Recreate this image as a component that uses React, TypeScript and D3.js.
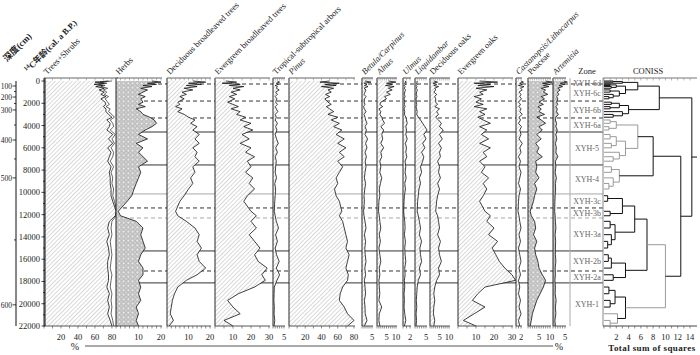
import React from 'react';
import * as d3 from 'd3';

// sample ages (cal. a B.P.)
const ages = [0, 100, 200, 300, 400, 500, 650, 800, 1000, 1200, 1400, 1600,
  1900, 2100, 2300, 2500, 2750, 3000, 3250,
  3500, 3800, 4100, 4400,
  4800, 5200, 5600, 6000, 6400, 6800, 7200,
  7700, 8200, 8700, 9200, 9700,
  10300, 10800,
  11700, 12100,
  12600, 13200, 13800, 14400, 15000,
  15600, 16200, 16800,
  17400, 17900,
  18500, 19100, 19700, 20300, 20900, 21500, 22000];

const treesShrubs = [80, 66, 74, 64, 72, 67, 75, 70, 74, 71, 76, 72,
  75, 77, 73, 78, 76, 80, 83,
  78, 81, 82, 78,
  84, 80, 83, 79, 82, 81, 78,
  82, 79, 81, 80, 82,
  81, 83,
  86, 85,
  80, 79, 80, 78, 79,
  80, 79, 78,
  80, 79,
  78, 80, 79, 80, 79, 81, 82];

const shrubs = [4, 6, 3, 5, 3, 6, 4, 5, 3, 4, 3, 5,
  3, 4, 3, 5, 3, 4, 3,
  4, 3, 5, 4,
  3, 4, 2, 4, 3, 4, 3,
  3, 2, 3, 2, 3,
  2, 2,
  1, 1,
  3, 4, 3, 4, 3,
  3, 4, 3,
  4, 3,
  4, 3, 4, 3, 4, 3, 2];

const herbs = [16, 20, 14, 18, 12, 16, 11, 14, 12, 10, 13, 11,
  12, 10, 13, 9, 11, 12, 15,
  17, 18, 16, 13,
  10, 14, 9, 12, 10, 12, 14,
  10, 11, 10, 9, 8,
  7, 5,
  1, 2,
  9, 12, 11, 12, 13,
  11, 10, 12,
  12, 10,
  11, 10, 11, 9, 10, 9, 10];

const decBroad = [12, 18, 10, 16, 9, 14, 8, 12, 7, 9, 6, 8,
  5, 6, 4, 7, 5, 8, 10,
  13, 11, 14, 12,
  15, 13, 15, 12, 14, 13, 15,
  12, 13, 11, 12, 10,
  8, 6,
  4, 5,
  9, 13, 15, 14, 16,
  14, 15, 18,
  14, 9,
  5, 3.5, 2.5, 2, 1.5, 3, 1];

const everBroad = [6, 12, 4, 14, 8, 16, 10, 14, 9, 12, 8, 11,
  7, 10, 13, 9, 14, 12, 17,
  14, 20, 16, 21,
  15, 19, 14, 20, 17, 22, 18,
  20, 17, 21, 19, 22,
  18, 16,
  20, 23,
  20, 23, 19, 22, 25,
  22, 24, 29,
  26, 28,
  22, 13, 7, 10, 14, 5, 10];

const tropical = [2, 3, 1.5, 2.5, 1, 2, 1.5, 2.8, 1.2, 2, 1, 1.8,
  1.2, 2, 1, 1.5, 2.2, 1, 1.5,
  1, 2, 1.2, 1.8,
  1, 1.6, 2.4, 1.2, 2, 1, 1.5,
  1.2, 1, 1.6, 0.8, 1.2,
  1, 0.8,
  0.6, 1,
  1.5, 2.5, 1.2, 2, 1,
  1.6, 2.8, 1.5,
  3, 1.8,
  0.6, 0.5, 0.4, 0.6, 0.5, 0.8, 0.5];

const pinus = [50, 38, 62, 44, 58, 40, 55, 48, 52, 45, 50, 44,
  48, 52, 46, 50, 55, 48, 60,
  52, 62, 55, 65,
  58, 68, 60, 70, 62, 68, 60,
  66, 62, 58, 60, 56,
  58, 62,
  65, 62,
  66, 68, 70, 72, 70,
  74, 72, 70,
  73, 72,
  66, 63, 62, 68, 72, 80, 72];

const betula = [1.5, 4.5, 1, 2.5, 1.2, 3, 1, 2, 1.5, 1, 2, 1.2,
  1, 1.5, 0.8, 1.2, 2, 1, 1.5,
  1.8, 2.5, 1.5, 2.2,
  1.5, 2.8, 1.8, 2.5, 1.5, 2.2, 1.6,
  2, 1.5, 1.2, 1.8, 1.4,
  1, 1.2,
  0.8, 1,
  1.5, 2, 1.2, 1.8, 1.4,
  1.6, 2, 1.4,
  1.8, 1.2,
  1.5, 1.8, 1.2, 1.5, 1.6, 2.5, 1.2];

const alnus = [6, 10, 5, 8, 4.5, 9, 6, 8, 5, 7, 4, 5,
  2, 1.5, 3, 1, 2, 1.5, 2.5,
  3, 4, 2, 3.5,
  2.5, 3, 2, 3.5, 2, 2.5, 1.5,
  2, 1.5, 2.5, 1.8, 1.2,
  1.5, 1,
  0.8, 1.2,
  1.5, 2, 1.2, 1.8, 1,
  1.5, 2, 1.2,
  1.5, 1,
  1.2, 1.5, 1, 2.5, 1.2, 1, 1.5];

const ulmus = [0.5, 1, 0.4, 0.8, 0.3, 0.6, 0.4, 0.7, 0.5, 0.4, 0.6, 0.3,
  0.5, 0.4, 0.6, 0.3, 0.5, 0.4, 0.8,
  1, 1.2, 0.8, 1,
  0.8, 1.2, 0.7, 1, 0.8, 1.1, 0.6,
  0.8, 0.6, 0.9, 0.5, 0.7,
  0.4, 0.3,
  0.2, 0.3,
  0.5, 0.6, 0.4, 0.7, 0.5,
  0.6, 0.8, 0.5,
  0.6, 0.4,
  0.5, 0.3, 0.4, 0.3, 0.5, 0.8, 0.4];

const liquidambar = [0.8, 1.2, 0.5, 1, 0.6, 0.9, 0.5, 1.1, 0.7, 0.6, 0.9, 0.5,
  0.6, 0.8, 0.5, 0.7, 1, 0.8, 1.5,
  2.5, 3.5, 4.5, 5.5,
  4, 5, 3.5, 4.5, 3, 4, 3.5,
  2.5, 3, 2, 2.5, 1.8,
  1.5, 1.2,
  1, 1.5,
  2, 2.5, 2, 3, 2.2,
  2.5, 3, 2,
  2.5, 1.5,
  1, 0.8, 0.6, 0.8, 0.5, 0.7, 0.5];

const decOaks = [2, 4, 1.5, 3.5, 2, 4.5, 2.5, 3, 2, 3.5, 2.5, 3,
  3, 4, 2.5, 5, 3.5, 4.5, 3,
  4.5, 6, 5, 7,
  5, 6.5, 4.5, 6, 5, 5.5, 4,
  5, 4.5, 5.5, 4, 5,
  4, 3.5,
  3, 4,
  4.5, 5, 4, 5.5, 4.5,
  5, 6, 4.5,
  5, 3.5,
  2.5, 2, 2.5, 2, 1.8, 2.5, 2];

const everOaks = [12, 22, 9, 18, 11, 20, 10, 16, 12, 14, 9, 13,
  10, 14, 9, 16, 12, 15, 11,
  14, 18, 12, 16,
  13, 17, 12, 18, 14, 16, 12,
  15, 13, 17, 14, 16,
  14, 12,
  15, 18,
  16, 20, 17, 22, 19,
  21, 23, 26,
  30, 32,
  15, 11, 8, 15, 9, 3, 10];

const castanopsis = [2, 3, 1.5, 2.5, 1, 3.2, 1.8, 2.5, 1.2, 2, 1.5, 2.2,
  1, 1.8, 1.2, 2, 1.5, 2.5, 1.2,
  1.8, 1, 2.2, 1.5,
  2, 1.2, 2.5, 1.5, 2, 1, 1.8,
  1.2, 2, 1.5, 1, 1.8,
  1.2, 1,
  0.8, 1.2,
  1.5, 2, 1.2, 1.8, 1,
  1.5, 2, 1.2,
  1.8, 1,
  1.5, 1, 1.8, 1.2, 2, 1, 1.5];

const poaceae = [8, 11, 6.5, 10, 7, 9.5, 6, 8, 7, 9, 6, 7.5,
  5, 7, 4.5, 6, 5, 7.5, 4,
  6, 8, 5, 6.5,
  4, 6, 3.5, 5, 4, 6.5, 3.5,
  4, 3.5, 5, 3, 4,
  3, 2.5,
  1, 1.5,
  3, 3.5, 2.5, 4, 3,
  3.5, 4.5, 5,
  6.5, 8,
  7, 5.5, 4, 3, 2, 1.5, 1];

const artemisia = [4.5, 6, 3, 5, 2.5, 4, 2, 3, 1.8, 2.5, 1.5, 2,
  1.5, 2, 1.2, 1.8, 1.5, 2.2, 1.2,
  1, 1.5, 1.2, 1.8,
  1.2, 1.6, 1, 1.4, 1.2, 2, 1,
  1.2, 0.9, 1.4, 1, 1.1,
  0.9, 0.8,
  0.7, 0.9,
  1, 1.2, 0.9, 1.1, 1,
  1, 1.2, 0.9,
  1, 0.8,
  1, 0.9, 1.3, 1, 1.2, 0.8, 1];

// age-depth model
const depthKnots = [60, 100, 200, 300, 400, 500, 550, 600, 620];
const ageKnots = [0, 450, 1440, 2600, 5300, 8700, 14270, 20100, 22000];

// zones
const zoneBounds = [270, 1800, 3320, 4580, 7540, 10140, 11400, 12300, 15260, 17060, 18130];
const zoneLineKind = ['dash', 'dash', 'dash', 'solid', 'solid', 'light', 'dash', 'lightdash', 'solid', 'dash', 'solid'];
const zoneNames = ['XYH-6d', 'XYH-6c', 'XYH-6b', 'XYH-6a', 'XYH-5', 'XYH-4', 'XYH-3c', 'XYH-3b', 'XYH-3a', 'XYH-2b', 'XYH-2a', 'XYH-1'];

// CONISS: [height, colour, left, right]; numbers are sample indexes
const z6d = [3, 'k', [1.5, 'k', 0, 1], 2];
const z6c = [3.5, 'k', [2, 'k', [1, 'k', 3, 4], [1.2, 'k', 5, 6]], [2.5, 'k', [1, 'k', 7, 8], [1.5, 'k', 9, [0.8, 'k', 10, 11]]]];
const z6b = [4, 'k', [2.5, 'k', [1.2, 'k', 12, 13], [1, 'k', 14, 15]], [3, 'k', 16, [1.5, 'k', 17, 18]]];
const z6a = [2, 'g', [1, 'g', 19, 20], [0.8, 'g', 21, 22]];
const z5 = [3.5, 'g', [2, 'g', [1, 'g', 23, 24], [1.2, 'g', 25, 26]], [2.5, 'g', 27, [1.5, 'g', 28, 29]]];
const z4 = [2.5, 'g', [1.2, 'g', 30, 31], [1.5, 'g', 32, [0.8, 'g', 33, 34]]];
const z3c = [0.6, 'k', 35, 36];
const z3b = [1, 'k', 37, 38];
const z3a = [1.8, 'k', [1, 'k', 39, 40], [1.2, 'k', 41, [0.6, 'k', 42, 43]]];
const z2b = [1.2, 'k', [0.7, 'k', 44, 45], 46];
const z2a = [1.5, 'k', 47, 48];
const z1 = [3.5, 'k', [1.8, 'k', [0.8, 'k', 49, 50], [1, 'k', 51, 52]], [2.2, 'g', 53, [1, 'g', 54, 55]]];
const coniss = [14.3, 'k',
  [9, 'k', [5.5, 'k', z6d, z6c], z6b],
  [12.5, 'k',
    [8, 'k', [5.5, 'g', z6a, z5], z4],
    [10, 'g', [7, 'k', [5, 'k', [3, 'k', z3c, z3b], z3a], [3.5, 'k', z2b, z2a]], z1]]];

const panels = [
  { label: 'Trees+Shrubs', x0: 44, x1: 117, max: 86, ticks: [20, 40, 60, 80], minor: 10, pat: 'hatch', values: treesShrubs, inner: shrubs },
  { label: 'Herbs', x0: 116, x1: 161, max: 20, ticks: [10, 20], minor: 2, pat: 'dots', values: herbs },
  { label: 'Deciduous broadleaved trees', x0: 167, x1: 210, max: 20, ticks: [10, 20], minor: 2, pat: 'hatch', values: decBroad },
  { label: 'Evergreen broadleaved trees', x0: 215, x1: 269, max: 30, ticks: [10, 20, 30], minor: 5, pat: 'hatch', values: everBroad },
  { label: 'Tropical-subtropical arbors', x0: 273, x1: 284, max: 5, ticks: [5], minor: 1, pat: 'hatch', values: tropical },
  { label: 'Pinus', italic: true, x0: 289, x1: 354, max: 80, ticks: [20, 40, 60, 80], minor: 10, pat: 'hatch', values: pinus },
  { label: 'Betula/Carpinus', italic: true, x0: 362, x1: 372, max: 5, ticks: [5], minor: 1, pat: 'hatch', values: betula },
  { label: 'Alnus', italic: true, x0: 377, x1: 396, max: 10, ticks: [5, 10], minor: 1, pat: 'hatch', values: alnus },
  { label: 'Ulmus', italic: true, x0: 403, x1: 410, max: 2, ticks: [2], minor: 1, pat: 'hatch', values: ulmus },
  { label: 'Liquidambar', italic: true, x0: 415, x1: 426, max: 5, ticks: [5], minor: 1, pat: 'hatch', values: liquidambar },
  { label: 'Deciduous oaks', x0: 430, x1: 449, max: 10, ticks: [5, 10], minor: 1, pat: 'hatch', values: decOaks },
  { label: 'Evergreen oaks', x0: 458, x1: 512, max: 30, ticks: [10, 20, 30], minor: 5, pat: 'hatch', values: everOaks },
  { label: 'Castanopsis/Lithocarpus', italic: true, x0: 516, x1: 521, max: 2, ticks: [2], minor: 1, pat: 'hatch', values: castanopsis },
  { label: 'Poaceae', x0: 528, x1: 550, max: 10, ticks: [5, 10], minor: 1, pat: 'dots', values: poaceae },
  { label: 'Artemisia', italic: true, x0: 553, x1: 565, max: 5, ticks: [5], minor: 1, pat: 'dots', values: artemisia },
];

const TOP = 78;
const BOT = 326;

export default function App() {
  const y = d3.scaleLinear().domain([0, 22000]).range([81, BOT]);
  const depthToAge = d3.scaleLinear().domain(depthKnots).range(ageKnots);
  const cx = d3.scaleLinear().domain([0, 14]).range([604, 690]);

  // dendrogram lines
  const dLines: any[] = [];
  function walk(n: any): { y: number; h: number } {
    if (typeof n === 'number') return { y: y(ages[n]), h: 0 };
    const [h, col, a, b] = n;
    const ca = walk(a);
    const cb = walk(b);
    const stroke = col === 'k' ? '#111' : '#9a9a9a';
    dLines.push({ x1: cx(ca.h), x2: cx(h), y1: ca.y, y2: ca.y, stroke });
    dLines.push({ x1: cx(cb.h), x2: cx(h), y1: cb.y, y2: cb.y, stroke });
    dLines.push({ x1: cx(h), x2: cx(h), y1: ca.y, y2: cb.y, stroke });
    return { y: (ca.y + cb.y) / 2, h };
  }
  const root = walk(coniss);
  dLines.push({ x1: cx(root.h), x2: 697, y1: root.y, y2: root.y, stroke: '#111' });

  const zoneEdges = [0, ...zoneBounds, 22000];

  return (
    <svg width={700} height={355} style={{ position: 'absolute', left: 0, top: 0, background: '#fff' }}
      fontFamily="'Liberation Serif', 'Times New Roman', serif">
      <defs>
        <pattern id="hatch" width={3} height={3} patternUnits="userSpaceOnUse" patternTransform="rotate(45)">
          <rect width={3} height={3} fill="#fff" />
          <line x1={0} y1={0} x2={0} y2={3} stroke="#7a7a7a" strokeWidth={0.6} />
        </pattern>
        <pattern id="dots" width={4.5} height={4.5} patternUnits="userSpaceOnUse">
          <rect width={4.5} height={4.5} fill="#cfcfcf" />
          <circle cx={2.25} cy={2.25} r={1.5} fill="#f6f6f6" stroke="#777" strokeWidth={0.45} />
        </pattern>
      </defs>

      {/* zone boundaries */}
      {zoneBounds.map((a, i) => {
        const k = zoneLineKind[i];
        return (
          <line key={'zb' + i} x1={116} x2={603} y1={y(a)} y2={y(a)}
            stroke={k.startsWith('light') ? '#a8a8a8' : '#333'}
            strokeWidth={1}
            strokeDasharray={k.endsWith('dash') ? '4,3' : undefined} />
        );
      })}

      {/* pollen panels */}
      {panels.map((p, pi) => {
        const x = d3.scaleLinear().domain([0, p.max]).range([p.x0, p.x1]);
        const fillVals = p.inner ? p.values.map((v, i) => v - p.inner[i]) : p.values;
        const area = d3.area<number>().x0(p.x0).x1((v) => x(v)).y((_, i) => y(ages[i]));
        const line = d3.line<number>().x((v) => x(v)).y((_, i) => y(ages[i]));
        const minorTicks = d3.range(0, p.max + 1e-6, p.minor);
        return (
          <g key={'p' + pi}>
            <path d={area(fillVals) || ''} fill={`url(#${p.pat})`} />
            <path d={line(fillVals) || ''} fill="none" stroke="#111" strokeWidth={0.8} />
            {p.inner && <path d={line(p.values) || ''} fill="none" stroke="#222" strokeWidth={0.7} />}
            <line x1={p.x0} x2={p.x0} y1={TOP} y2={BOT} stroke="#111" strokeWidth={0.9} />
            <line x1={p.x0} x2={p.x1 + 1} y1={TOP} y2={TOP} stroke="#666" strokeWidth={1.2} />
            <line x1={p.x0} x2={p.x1 + 1} y1={BOT} y2={BOT} stroke="#444" strokeWidth={0.9} />
            {minorTicks.map((t) => (
              <g key={'t' + t}>
                <line x1={x(t)} x2={x(t)} y1={TOP} y2={TOP + 2.5} stroke="#888" strokeWidth={0.6} />
                <line x1={x(t)} x2={x(t)} y1={BOT} y2={BOT + 2.5} stroke="#444" strokeWidth={0.6} />
              </g>
            ))}
            {p.ticks.map((t) => (
              <text key={'l' + t} x={x(t)} y={340} fontSize={8.5} textAnchor="middle" fill="#222">{t}</text>
            ))}
            <text transform={`translate(${p.x0 + 3},75) rotate(-45)`} fontSize={8.5}
              fontStyle={p.italic ? 'italic' : 'normal'} fill="#222">{p.label}</text>
          </g>
        );
      })}

      {/* age axis */}
      <line x1={45} x2={45} y1={TOP} y2={BOT} stroke="#111" strokeWidth={1} />
      {d3.range(0, 22001, 1000).map((a) => (
        <line key={'am' + a} x1={a % 2000 === 0 ? 41.5 : 43} x2={45} y1={y(a)} y2={y(a)} stroke="#111" strokeWidth={0.8} />
      ))}
      {d3.range(0, 22001, 2000).map((a) => (
        <text key={'al' + a} x={40} y={y(a) + 3} fontSize={8.5} textAnchor="end" fill="#222">{a}</text>
      ))}

      {/* depth axis */}
      <line x1={16} x2={16} y1={y(0)} y2={BOT} stroke="#111" strokeWidth={1} />
      {d3.range(100, 601, 50).map((d) => (
        <line key={'dm' + d} x1={d % 100 === 0 ? 12.5 : 14} x2={16} y1={y(depthToAge(d))} y2={y(depthToAge(d))} stroke="#111" strokeWidth={0.8} />
      ))}
      {d3.range(100, 601, 100).map((d) => (
        <text key={'dl' + d} x={12} y={y(depthToAge(d)) + 3} fontSize={7.5} textAnchor="end" fill="#222">{d}</text>
      ))}

      <text transform="translate(7,62) rotate(-45)" fontSize={9} fontWeight="bold"
        fontFamily="'Liberation Serif', 'Noto Sans CJK SC', serif" fill="#222">深度(cm)</text>
      <text transform="translate(28,73) rotate(-45)" fontSize={8.5} fontWeight="bold"
        fontFamily="'Liberation Serif', 'Noto Sans CJK SC', serif" fill="#222">
        <tspan fontSize={6} dy={-3}>14</tspan><tspan dy={3}>C年龄(cal. a B.P.)</tspan>
      </text>

      {/* zone column */}
      <line x1={570} x2={570} y1={TOP} y2={BOT} stroke="#aaa" strokeWidth={1} />
      <line x1={603} x2={603} y1={TOP} y2={BOT} stroke="#888" strokeWidth={1} />
      <text x={587} y={74} fontSize={8.5} textAnchor="middle" fill="#222">Zone</text>
      {zoneNames.map((z, i) => (
        <text key={'zn' + i} x={587} y={(y(zoneEdges[i]) + y(zoneEdges[i + 1])) / 2 + 3}
          fontSize={8} textAnchor="middle" fill="#666">{z}</text>
      ))}

      {/* CONISS */}
      <text x={648} y={74} fontSize={8.5} textAnchor="middle" fill="#222">CONISS</text>
      <line x1={603} x2={697} y1={TOP} y2={TOP} stroke="#777" strokeWidth={1} />
      <line x1={603} x2={697} y1={BOT} y2={BOT} stroke="#444" strokeWidth={1} />
      {d3.range(0, 15).map((t) => (
        <g key={'ct' + t}>
          <line x1={cx(t)} x2={cx(t)} y1={TOP} y2={TOP + 2.5} stroke="#888" strokeWidth={0.6} />
          <line x1={cx(t)} x2={cx(t)} y1={BOT} y2={BOT + 2.5} stroke="#444" strokeWidth={0.6} />
        </g>
      ))}
      {d3.range(2, 15, 2).map((t) => (
        <text key={'cl' + t} x={cx(t)} y={340} fontSize={8.5} textAnchor="middle" fill="#222">{t}</text>
      ))}
      {dLines.map((l, i) => (
        <line key={'dl' + i} x1={l.x1} x2={l.x2} y1={l.y1} y2={l.y2} stroke={l.stroke} strokeWidth={1} />
      ))}
      <text x={652} y={351} fontSize={9} fontWeight="bold" textAnchor="middle" letterSpacing={0.4} fill="#222">Total sum of squares</text>

      {/* percent axis */}
      <text x={75} y={350} fontSize={10} textAnchor="middle" fill="#222">%</text>
      <line x1={85} x2={553} y1={346} y2={346} stroke="#555" strokeWidth={1} />
      <text x={559} y={350} fontSize={10} textAnchor="middle" fill="#222">%</text>
    </svg>
  );
}
